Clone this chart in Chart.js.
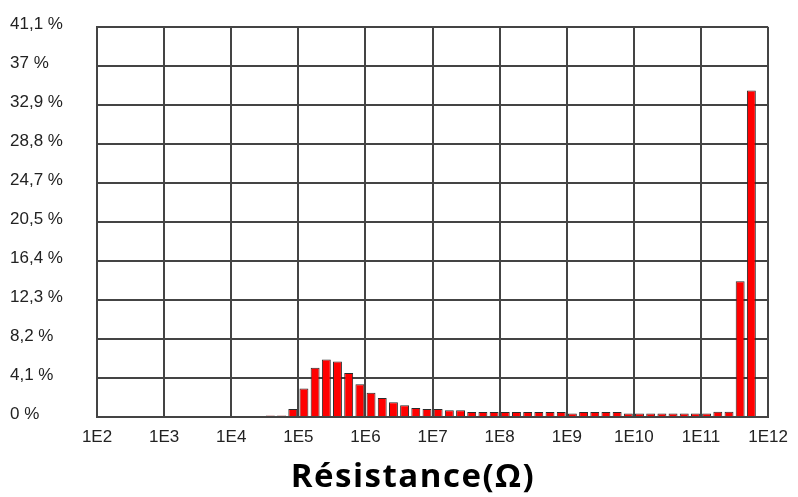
<!DOCTYPE html>
<html lang="fr">

<head>
    <meta charset="UTF-8">
    <title>Résistance</title>
    <style>
        body {
            margin: 0;
            background-color: #ffffff;
        }

        #chart {
            display: block;
        }
    </style>
</head>

<body>
    <canvas id="chart" width="798" height="497"></canvas>

    <script src="https://cdn.jsdelivr.net/npm/chart.js"></script>
    <script>
        // Bin centres, log10(ohm), six bins per decade
        const binCenters = [
            4.583, 4.75, 4.917,
            5.083, 5.25, 5.417, 5.583, 5.75, 5.917,
            6.083, 6.25, 6.417, 6.583, 6.75, 6.917,
            7.083, 7.25, 7.417, 7.583, 7.75, 7.917,
            8.083, 8.25, 8.417, 8.583, 8.75, 8.917,
            9.083, 9.25, 9.417, 9.583, 9.75, 9.917,
            10.083, 10.25, 10.417, 10.583, 10.75, 10.917,
            11.083, 11.25, 11.417, 11.583, 11.75, 11.917
        ];

        // Share of samples per bin (%)
        const shares = [
            0.15, 0.15, 0.85,
            3.0, 5.2, 6.05, 5.85, 4.65, 3.45,
            2.55, 2.0, 1.55, 1.25, 0.95, 0.85,
            0.85, 0.72, 0.7, 0.52, 0.52, 0.52,
            0.52, 0.52, 0.52, 0.52, 0.52, 0.52,
            0.38, 0.52, 0.52, 0.52, 0.52, 0.38,
            0.38, 0.38, 0.38, 0.38, 0.38, 0.38,
            0.38, 0.55, 0.55, 14.3, 34.4, 0.1
        ];

        const xTickValues = [2, 3, 4, 5, 6, 7, 8, 9, 10, 11, 12];
        const xTickLabels = ["1E2", "1E3", "1E4", "1E5", "1E6", "1E7", "1E8", "1E9", "1E10", "1E11", "1E12"];
        const yTickValues = [0, 4.11, 8.22, 12.33, 16.44, 20.55, 24.66, 28.77, 32.88, 36.99, 41.1];
        const yTickLabels = ["0 %", "4,1 %", "8,2 %", "12,3 %", "16,4 %", "20,5 %", "24,7 %", "28,8 %", "32,9 %", "37 %", "41,1 %"];

        const axisTitle = "Résistance(Ω)";

        const tickFont = { family: "'Liberation Sans', Arial, sans-serif", size: 17 };
        const gridColor = "#444444";

        // draws the axis title a bit left of the plot centre, like the original
        const titlePlugin = {
            id: "axisTitle",
            afterDraw(chart) {
                const ctx = chart.ctx;
                ctx.save();
                ctx.fillStyle = "#000000";
                ctx.font = "bold 33px 'Open Sans', sans-serif";
                ctx.letterSpacing = "1.5px";
                ctx.textAlign = "center";
                ctx.textBaseline = "alphabetic";
                ctx.fillText(axisTitle, 413, 487);
                ctx.restore();
            }
        };

        const ctx = document.getElementById("chart").getContext("2d");
        new Chart(ctx, {
            type: "bar",
            data: {
                datasets: [{
                    label: "Résistance",
                    data: binCenters.map((x, i) => ({ x: x, y: shares[i] })),
                    backgroundColor: "#ff0000",
                    borderColor: "#2a2a2a",
                    borderWidth: 1,
                    barPercentage: 0.8,
                    categoryPercentage: 1.0,
                }],
            },
            options: {
                responsive: false,
                animation: false,
                layout: {
                    padding: { left: 10, right: 22, top: 27, bottom: 0 }
                },
                plugins: {
                    legend: { display: false },
                    tooltip: { enabled: false },
                },
                scales: {
                    x: {
                        type: "linear",
                        min: 2,
                        max: 12,
                        offset: false,
                        grid: {
                            offset: false,
                            color: gridColor,
                            lineWidth: 2,
                            drawTicks: false,
                        },
                        border: { color: gridColor, width: 2 },
                        afterBuildTicks: (scale) => {
                            scale.ticks = xTickValues.map(v => ({ value: v }));
                        },
                        ticks: {
                            font: tickFont,
                            color: "#222222",
                            padding: 10,
                            maxRotation: 0,
                            autoSkip: false,
                            callback: (value, index) => xTickLabels[index],
                        },
                        afterFit: (scale) => {
                            scale.height = 80;
                        },
                    },
                    y: {
                        min: 0,
                        max: 41.1,
                        grid: {
                            color: gridColor,
                            lineWidth: 2,
                            drawTicks: false,
                        },
                        border: { color: gridColor, width: 2 },
                        afterBuildTicks: (scale) => {
                            scale.ticks = yTickValues.map(v => ({ value: v }));
                        },
                        ticks: {
                            font: tickFont,
                            color: "#222222",
                            crossAlign: "far",
                            labelOffset: -3,
                            autoSkip: false,
                            callback: (value, index) => yTickLabels[index],
                        },
                        afterFit: (scale) => {
                            scale.width = 87;
                        },
                    },
                },
            },
            plugins: [titlePlugin],
        });
    </script>
</body>

</html>
